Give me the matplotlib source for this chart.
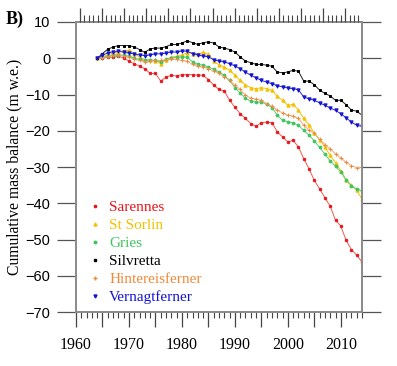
import matplotlib
matplotlib.use('Agg')
import matplotlib.pyplot as plt
from matplotlib.ticker import MultipleLocator, FuncFormatter
from matplotlib.lines import Line2D

years = list(range(1964, 2015))

sarennes = [0, 0.1, 0.3, 0.3, 0.5, 0.1, -0.8, -1.5, -2.2, -2.9,
            -4.2, -4.2, -6.3, -5.2, -4.7, -4.9, -4.5, -4.5, -4.5, -4.7,
            -4.7, -5.9, -7.4, -8.6, -9.0, -11.6, -13.5, -15.3, -16.6, -18.0,
            -18.8, -17.8, -17.6, -17.8, -20.3, -21.7, -23.1, -22.6, -24.5, -27.7,
            -30.5, -33.7, -36.0, -38.5, -40.8, -44.7, -46.3, -50.2, -52.8, -54.3,
            -56.2]
st_sorlin = [0, 0.5, 0.9, 1.4, 1.8, 2.0, 2.2, 1.3, 0.3, -0.4,
             -0.5, -0.7, -1.5, -0.4, 0.3, 0.5, 0.9, 1.5, 1.3, 1.2,
             1.6, 1.1, -0.8, -1.8, -2.4, -3.3, -4.7, -6.1, -7.4, -8.1,
             -8.4, -8.1, -8.4, -8.8, -10.5, -11.6, -13.0, -12.7, -14.3, -16.6,
             -18.4, -20.6, -22.5, -24.5, -26.8, -28.8, -31.0, -33.5, -35.0, -36.4,
             -38.9]
gries = [0, 0.3, 0.6, 0.9, 1.0, 0.8, 0.6, 0.0, -0.3, -0.6,
         -0.5, -0.6, -1.0, -0.3, 0.2, 0.3, 0.4, 0.3, -1.0, -1.7,
         -1.9, -2.4, -3.0, -3.8, -4.7, -6.1, -8.1, -9.6, -11.1, -11.8,
         -12.1, -12.1, -12.7, -13.6, -15.7, -17.1, -17.5, -17.8, -18.5, -19.9,
         -21.2, -22.8, -24.6, -26.5, -28.3, -29.8, -31.4, -33.6, -35.3, -36.0,
         -36.6]
silvretta = [0, 1.3, 2.5, 3.1, 3.5, 3.5, 3.5, 3.1, 2.4, 1.6,
             2.6, 2.8, 2.8, 3.2, 3.8, 3.8, 4.2, 4.8, 4.3, 3.8,
             4.3, 4.5, 4.2, 3.1, 2.8, 2.4, 1.7, 0.4, -0.8, -1.2,
             -1.7, -1.7, -1.9, -2.2, -3.8, -4.0, -3.8, -3.3, -3.6, -6.3,
             -6.3, -7.3, -8.8, -9.7, -10.4, -11.6, -11.6, -12.8, -14.3, -14.6,
             -15.7]
hintereis = [0, 0.2, 0.5, 0.8, 0.9, 0.6, 0.3, -0.3, -0.6, -1.0,
             -0.8, -0.6, -0.6, -0.4, -0.2, -0.3, -0.6, -0.8, -1.7, -2.2,
             -2.4, -2.9, -3.5, -4.2, -5.2, -6.1, -7.4, -8.6, -10.2, -11.0,
             -11.3, -11.6, -12.5, -13.2, -14.3, -15.1, -15.7, -16.0, -16.6, -18.5,
             -19.9, -20.6, -22.4, -23.8, -25.0, -26.4, -27.5, -28.7, -29.6, -30.2,
             -30.1]
vernagt = [0, 0.8, 1.5, 1.7, 1.9, 1.7, 1.4, 1.2, 0.9, 0.7,
           0.9, 1.2, 1.2, 1.4, 1.7, 1.7, 2.0, 1.9, 1.3, 0.9,
           0.6, 0.4, -0.4, -0.8, -1.0, -1.5, -2.1, -2.9, -3.8, -4.7,
           -5.4, -6.1, -6.6, -7.0, -7.6, -7.9, -8.2, -8.4, -8.7, -10.7,
           -11.2, -11.6, -12.3, -13.0, -13.7, -14.4, -15.3, -16.4, -17.6, -18.5,
           -18.8]

names = ['Sarennes', 'St Sorlin', 'Gries', 'Silvretta', 'Hintereisferner', 'Vernagtferner']
series = [sarennes, st_sorlin, gries, silvretta, hintereis, vernagt]
marker_cols = ['#e8141c', '#f2c200', '#3ec45e', '#000000', '#f08a3a', '#1414d2']
line_cols = ['#ee5a50', '#f2c200', '#5ccf7a', '#222222', '#f4a878', '#2a2ad8']
markers = ['o', '^', 'o', 's', '+', 'v']
msizes = [1.8, 2.4, 2.0, 1.8, 3.4, 2.4]

fig = plt.figure(figsize=(3.97, 3.66), dpi=100)
ax = fig.add_axes([0.1914, 0.1475, 0.7204, 0.7924])

for s, name, mc, lc, m, ms in zip(series, names, marker_cols, line_cols, markers, msizes):
    ax.plot(years, s, color=lc, lw=0.7, marker=m, ms=ms, mfc=mc, mec=mc, mew=0.7, label=name)

ax.set_xlim(1960, 2014)
ax.set_ylim(-70, 10)

gray = '#8a8a8a'
for sp in ax.spines.values():
    sp.set_color(gray)
    sp.set_linewidth(1.4)

ax.yaxis.set_major_locator(MultipleLocator(10))
ax.tick_params(axis='y', which='major', direction='out', length=13.5, width=0.9,
               color='#555555', left=True, right=True, pad=5)
ax.tick_params(axis='y', labelsize=10.5)
for lab in ax.get_yticklabels():
    lab.set_family('Liberation Sans')

ax.xaxis.set_major_locator(MultipleLocator(5))
ax.xaxis.set_minor_locator(MultipleLocator(1))
ax.xaxis.set_major_formatter(FuncFormatter(lambda v, p: '%d' % v if int(round(v)) % 10 == 0 else ''))
ax.tick_params(axis='x', which='major', direction='out', length=10.8, width=0.9,
               color='#444444', pad=7, labelsize=11.5)
ax.tick_params(axis='x', which='minor', direction='out', length=4.3, width=0.8, color='#444444')
for lab in ax.get_xticklabels():
    lab.set_family('Liberation Serif')

top = ax.twiny()
top.set_xlim(-0.9, 63.8)
top.xaxis.set_major_locator(MultipleLocator(5))
top.xaxis.set_minor_locator(MultipleLocator(1))
top.tick_params(axis='x', which='major', direction='out', length=10, width=0.9,
                color='#444444', labeltop=False)
top.tick_params(axis='x', which='minor', direction='out', length=5, width=0.8, color='#444444')
for sp in top.spines.values():
    sp.set_visible(False)

ax.set_ylabel('Cumulative mass balance (m w.e.)', family='Liberation Serif', fontsize=11.3, labelpad=2)

handles = [Line2D([], [], ls='none', marker=m, ms=ms * 0.9, mfc=mc, mec=mc, color=mc)
           for m, ms, mc in zip(markers, msizes, marker_cols)]
leg = ax.legend(handles, names, loc='upper left', bbox_to_anchor=(0.02, 0.405), frameon=False,
                prop={'family': 'Liberation Serif', 'size': 11}, handlelength=1.0,
                handletextpad=0.4, labelspacing=0.28, borderaxespad=0)
for txt, c in zip(leg.get_texts(), marker_cols):
    txt.set_color(c)

fig.text(0.015, 0.935, 'B)', family='Liberation Serif', fontweight='bold', fontsize=13)

fig.savefig('out.png', dpi=100)
